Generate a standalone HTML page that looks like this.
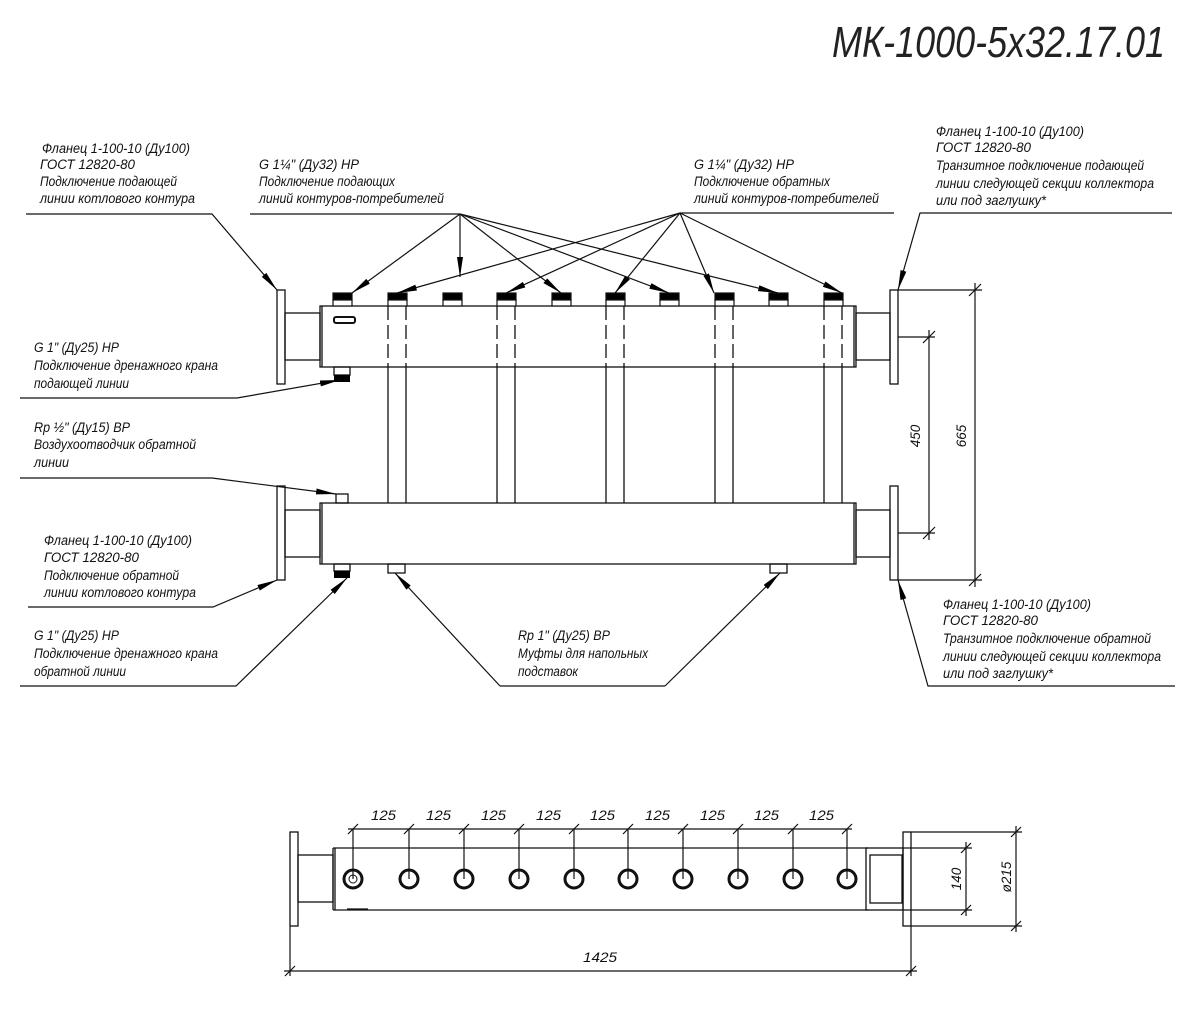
<!DOCTYPE html>
<html><head><meta charset="utf-8"><style>
html,body{margin:0;padding:0;background:#fff}
svg text{font-family:"Liberation Sans",sans-serif;font-style:italic;font-size:13.5px;fill:#111}
</style></head><body>
<svg width="1200" height="1014" viewBox="0 0 1200 1014" xmlns="http://www.w3.org/2000/svg">
<defs>
<marker id="a" viewBox="0 0 20 6" refX="20" refY="3" markerWidth="20" markerHeight="6" markerUnits="userSpaceOnUse" orient="auto"><path d="M0,0 L20,3 L0,6 z" fill="#000"/></marker>
</defs>
<g fill="none" stroke="#111" stroke-width="1.3">
<rect x="277" y="290" width="8" height="94" fill="#fff"/>
<rect x="285" y="313" width="35" height="47"/>
<rect x="320" y="306" width="536" height="61"/>
<line x1="322" y1="306" x2="322" y2="367"/>
<rect x="856" y="313" width="34" height="47"/>
<rect x="890" y="290" width="8" height="94"/>
<line x1="854" y1="306" x2="854" y2="367"/>
<rect x="334" y="317" width="21" height="6" rx="2" stroke-width="2"/>
<rect x="277" y="486" width="8" height="94"/>
<rect x="285" y="510" width="35" height="47"/>
<rect x="320" y="503" width="536" height="61"/>
<line x1="322" y1="503" x2="322" y2="564"/>
<line x1="854" y1="503" x2="854" y2="564"/>
<rect x="856" y="510" width="34" height="47"/>
<rect x="890" y="486" width="8" height="94"/>
<g id="vp">
<line x1="388" y1="367" x2="388" y2="503"/><line x1="406" y1="367" x2="406" y2="503"/>
<line x1="388" y1="306" x2="388" y2="367" stroke-dasharray="14,5"/><line x1="406" y1="306" x2="406" y2="367" stroke-dasharray="14,5"/>
</g>
<use href="#vp" x="109"/><use href="#vp" x="218"/><use href="#vp" x="327"/><use href="#vp" x="436"/>
<rect x="336" y="494" width="12" height="9"/>
<rect x="334" y="367" width="16" height="8"/>
<rect x="334" y="564" width="16" height="7"/>
<rect x="388" y="564" width="17" height="9"/>
<rect x="770" y="564" width="17" height="9"/>
</g>
<g fill="#000">
<rect x="334" y="375" width="16" height="7"/>
<rect x="334" y="571" width="16" height="7"/>
</g>
<g stroke="#111" stroke-width="1.2">
<g id="np"><rect x="333" y="293" width="19" height="7" fill="#000"/><rect x="333" y="300" width="19" height="6" fill="#fff"/></g>
<use href="#np" x="55"/><use href="#np" x="110"/><use href="#np" x="164"/><use href="#np" x="219"/><use href="#np" x="273"/><use href="#np" x="327"/><use href="#np" x="382"/><use href="#np" x="436"/><use href="#np" x="491"/>
</g>
<g fill="none" stroke="#111" stroke-width="1.2">
<polyline points="26,214 212,214 277,290" marker-end="url(#a)"/>
<line x1="250" y1="214" x2="460" y2="214"/>
<line x1="460" y1="214" x2="352" y2="293" marker-end="url(#a)"/>
<line x1="460" y1="214" x2="460" y2="277" marker-end="url(#a)"/>
<line x1="460" y1="214" x2="561" y2="293" marker-end="url(#a)"/>
<line x1="460" y1="214" x2="669" y2="293" marker-end="url(#a)"/>
<line x1="460" y1="214" x2="778" y2="293" marker-end="url(#a)"/>
<line x1="680" y1="213" x2="894" y2="213"/>
<line x1="680" y1="213" x2="397" y2="293" marker-end="url(#a)"/>
<line x1="680" y1="213" x2="506" y2="293" marker-end="url(#a)"/>
<line x1="680" y1="213" x2="615" y2="293" marker-end="url(#a)"/>
<line x1="680" y1="213" x2="714" y2="293" marker-end="url(#a)"/>
<line x1="680" y1="213" x2="842" y2="293" marker-end="url(#a)"/>
<polyline points="1172,213 920,213 898,290" marker-end="url(#a)"/>
<polyline points="20,398 237,398 340,380" marker-end="url(#a)"/>
<polyline points="20,478 212,478 336,494" marker-end="url(#a)"/>
<polyline points="28,607 213,607 277,580" marker-end="url(#a)"/>
<polyline points="20,686 236,686 347,578" marker-end="url(#a)"/>
<line x1="500" y1="686" x2="665" y2="686"/>
<line x1="500" y1="686" x2="395" y2="573" marker-end="url(#a)"/>
<line x1="665" y1="686" x2="780" y2="573" marker-end="url(#a)"/>
<polyline points="1175,686 928,686 898,580" marker-end="url(#a)"/>
<line x1="898" y1="337" x2="935" y2="337"/><line x1="898" y1="533" x2="935" y2="533"/>
<line x1="929" y1="330" x2="929" y2="540"/>
<line x1="898" y1="290" x2="982" y2="290"/><line x1="898" y1="580" x2="982" y2="580"/>
<line x1="975" y1="283" x2="975" y2="587"/>
<path d="M923,343 l12,-12 M923,539 l12,-12 M969,296 l12,-12 M969,586 l12,-12"/>
</g>
<g fill="none" stroke="#111" stroke-width="1.3">
<rect x="290" y="832" width="8" height="94"/>
<rect x="298" y="855" width="35" height="47"/>
<line x1="333" y1="848" x2="333" y2="910"/><line x1="335" y1="848" x2="335" y2="910"/>
<line x1="333" y1="848" x2="868" y2="848"/><line x1="333" y1="910" x2="868" y2="910"/>
<line x1="347" y1="909" x2="368" y2="909"/>
<rect x="866" y="848" width="37" height="62"/>
<rect x="870" y="855" width="32" height="48"/>
<rect x="903" y="832" width="8" height="94"/>
<g stroke-width="3">
<circle cx="353" cy="879" r="9"/><circle cx="409" cy="879" r="9"/><circle cx="464" cy="879" r="9"/><circle cx="519" cy="879" r="9"/><circle cx="574" cy="879" r="9"/><circle cx="628" cy="879" r="9"/><circle cx="683" cy="879" r="9"/><circle cx="738" cy="879" r="9"/><circle cx="793" cy="879" r="9"/><circle cx="847" cy="879" r="9"/>
</g>
<circle cx="353" cy="879" r="4" stroke-width="1"/>
<g stroke-width="1.2">
<line x1="348" y1="829" x2="852" y2="829"/>
<path d="M353,829V879 M409,829V879 M464,829V879 M519,829V879 M574,829V879 M628,829V879 M683,829V879 M738,829V879 M793,829V879 M847,829V879"/>
<path d="M348,834l10,-10 M404,834l10,-10 M459,834l10,-10 M514,834l10,-10 M569,834l10,-10 M623,834l10,-10 M678,834l10,-10 M733,834l10,-10 M788,834l10,-10 M842,834l10,-10"/>
<line x1="290" y1="926" x2="290" y2="976"/><line x1="911" y1="926" x2="911" y2="976"/>
<line x1="284" y1="971" x2="917" y2="971"/>
<path d="M285,976l10,-10 M906,976l10,-10"/>
<line x1="903" y1="848" x2="972" y2="848"/><line x1="903" y1="910" x2="972" y2="910"/>
<line x1="966" y1="842" x2="966" y2="916"/>
<path d="M961,853l10,-10 M961,915l10,-10"/>
<line x1="911" y1="832" x2="1022" y2="832"/><line x1="911" y1="926" x2="1022" y2="926"/>
<line x1="1016" y1="826" x2="1016" y2="932"/>
<path d="M1011,837l10,-10 M1011,931l10,-10"/>
</g>
</g>
<text x="832" y="57" style="font-size:44px;fill:#222" textLength="333" lengthAdjust="spacingAndGlyphs">МК-1000-5х32.17.01</text>
<text x="42" y="153" textLength="148" lengthAdjust="spacingAndGlyphs">Фланец 1-100-10 (Ду100)</text>
<text x="40" y="169" textLength="95" lengthAdjust="spacingAndGlyphs">ГОСТ 12820-80</text>
<text x="40" y="186" textLength="137" lengthAdjust="spacingAndGlyphs">Подключение подающей</text>
<text x="40" y="203" textLength="155" lengthAdjust="spacingAndGlyphs">линии котлового контура</text>
<text x="259" y="169" textLength="100" lengthAdjust="spacingAndGlyphs">G 1¼" (Ду32) НР</text>
<text x="259" y="186" textLength="136" lengthAdjust="spacingAndGlyphs">Подключение подающих</text>
<text x="259" y="203" textLength="185" lengthAdjust="spacingAndGlyphs">линий контуров-потребителей</text>
<text x="694" y="169" textLength="100" lengthAdjust="spacingAndGlyphs">G 1¼" (Ду32) НР</text>
<text x="694" y="186" textLength="136" lengthAdjust="spacingAndGlyphs">Подключение обратных</text>
<text x="694" y="203" textLength="185" lengthAdjust="spacingAndGlyphs">линий контуров-потребителей</text>
<text x="936" y="136" textLength="148" lengthAdjust="spacingAndGlyphs">Фланец 1-100-10 (Ду100)</text>
<text x="936" y="152" textLength="95" lengthAdjust="spacingAndGlyphs">ГОСТ 12820-80</text>
<text x="936" y="170" textLength="208" lengthAdjust="spacingAndGlyphs">Транзитное подключение подающей</text>
<text x="936" y="188" textLength="218" lengthAdjust="spacingAndGlyphs">линии следующей секции коллектора</text>
<text x="936" y="205" textLength="110" lengthAdjust="spacingAndGlyphs">или под заглушку*</text>
<text x="34" y="352" textLength="85" lengthAdjust="spacingAndGlyphs">G 1" (Ду25) НР</text>
<text x="34" y="370" textLength="184" lengthAdjust="spacingAndGlyphs">Подключение дренажного крана</text>
<text x="34" y="388" textLength="95" lengthAdjust="spacingAndGlyphs">подающей линии</text>
<text x="34" y="432" textLength="96" lengthAdjust="spacingAndGlyphs">Rp ½" (Ду15) ВР</text>
<text x="34" y="449" textLength="162" lengthAdjust="spacingAndGlyphs">Воздухоотводчик обратной</text>
<text x="34" y="467" textLength="35" lengthAdjust="spacingAndGlyphs">линии</text>
<text x="44" y="545" textLength="148" lengthAdjust="spacingAndGlyphs">Фланец 1-100-10 (Ду100)</text>
<text x="44" y="562" textLength="95" lengthAdjust="spacingAndGlyphs">ГОСТ 12820-80</text>
<text x="44" y="580" textLength="135" lengthAdjust="spacingAndGlyphs">Подключение обратной</text>
<text x="44" y="597" textLength="152" lengthAdjust="spacingAndGlyphs">линии котлового контура</text>
<text x="34" y="640" textLength="85" lengthAdjust="spacingAndGlyphs">G 1" (Ду25) НР</text>
<text x="34" y="658" textLength="184" lengthAdjust="spacingAndGlyphs">Подключение дренажного крана</text>
<text x="34" y="676" textLength="92" lengthAdjust="spacingAndGlyphs">обратной линии</text>
<text x="518" y="640" textLength="92" lengthAdjust="spacingAndGlyphs">Rp 1" (Ду25) ВР</text>
<text x="518" y="658" textLength="130" lengthAdjust="spacingAndGlyphs">Муфты для напольных</text>
<text x="518" y="676" textLength="60" lengthAdjust="spacingAndGlyphs">подставок</text>
<text x="943" y="609" textLength="148" lengthAdjust="spacingAndGlyphs">Фланец 1-100-10 (Ду100)</text>
<text x="943" y="625" textLength="95" lengthAdjust="spacingAndGlyphs">ГОСТ 12820-80</text>
<text x="943" y="643" textLength="208" lengthAdjust="spacingAndGlyphs">Транзитное подключение обратной</text>
<text x="943" y="661" textLength="218" lengthAdjust="spacingAndGlyphs">линии следующей секции коллектора</text>
<text x="943" y="678" textLength="110" lengthAdjust="spacingAndGlyphs">или под заглушку*</text>
<g style="font-size:19px">
<text x="371" y="820" textLength="25" lengthAdjust="spacingAndGlyphs">125</text><text x="426" y="820" textLength="25" lengthAdjust="spacingAndGlyphs">125</text><text x="481" y="820" textLength="25" lengthAdjust="spacingAndGlyphs">125</text><text x="536" y="820" textLength="25" lengthAdjust="spacingAndGlyphs">125</text><text x="590" y="820" textLength="25" lengthAdjust="spacingAndGlyphs">125</text><text x="645" y="820" textLength="25" lengthAdjust="spacingAndGlyphs">125</text><text x="700" y="820" textLength="25" lengthAdjust="spacingAndGlyphs">125</text><text x="754" y="820" textLength="25" lengthAdjust="spacingAndGlyphs">125</text><text x="809" y="820" textLength="25" lengthAdjust="spacingAndGlyphs">125</text>
<text x="583" y="962" textLength="34" lengthAdjust="spacingAndGlyphs">1425</text>
</g>
<g style="font-size:22px">
<text transform="translate(920,436) rotate(-90)" text-anchor="middle">450</text>
<text transform="translate(966,436) rotate(-90)" text-anchor="middle">665</text>
<text transform="translate(961,879) rotate(-90)" text-anchor="middle">140</text>
<text transform="translate(1011,877) rotate(-90)" text-anchor="middle">ø215</text>
</g>
</svg>
</body></html>
